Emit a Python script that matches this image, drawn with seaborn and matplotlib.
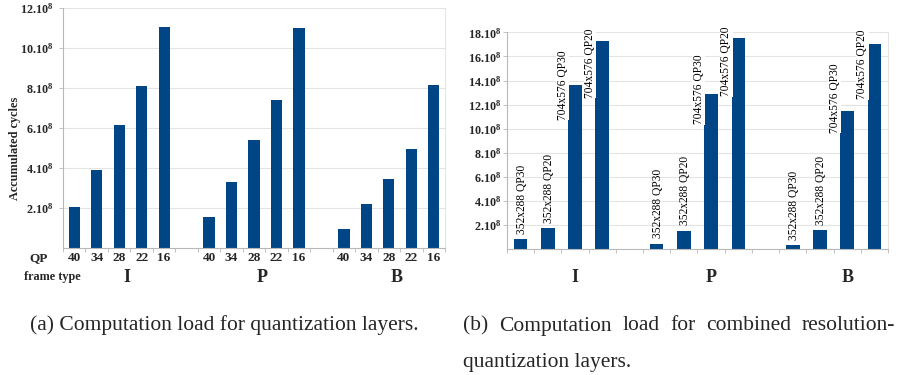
import numpy as np
import pandas as pd
import seaborn as sns
import matplotlib
matplotlib.use('Agg')
import matplotlib.pyplot as plt
import matplotlib.transforms as mtransforms

# ---------------- data (units of 10^8 cycles) ----------------
frame_types = ['I', 'P', 'B']
qp_values = ['40', '34', '28', '22', '16']
quant_I = [2.05, 3.90, 6.13, 8.10, 11.05]
quant_P = [1.55, 3.28, 5.40, 7.40, 11.00]
quant_B = [0.93, 2.18, 3.45, 4.93, 8.15]

layer_labels = ['352x288 QP30', '352x288 QP20', '704x576 QP30', '704x576 QP20']
combo_I = [0.83, 1.74, 13.65, 17.27]
combo_P = [0.47, 1.54, 12.88, 17.55]
combo_B = [0.33, 1.58, 11.49, 17.02]

yticks_a = [2, 4, 6, 8, 10, 12]
yticks_b = [2, 4, 6, 8, 10, 12, 14, 16, 18]

caption_a = '(a) Computation load for quantization layers.'
caption_b1 = '(b) Computation load for combined resolution-'
caption_b2 = 'quantization layers.'

# ---------------- style ----------------
sns.set_style('white')
plt.rcParams['font.family'] = ['Liberation Serif', 'DejaVu Serif']
plt.rcParams['mathtext.fontset'] = 'custom'
plt.rcParams['mathtext.bf'] = 'Liberation Serif:bold'
plt.rcParams['mathtext.rm'] = 'Liberation Serif:bold'
plt.rcParams['mathtext.default'] = 'bf'

BLUE = '#004586'
GRID = '#e4e4e4'
SPINE = '#b8b8b8'
W, H = 901, 375

fig = plt.figure(figsize=(W / 100, H / 100), dpi=100)
axA = fig.add_axes([63 / W, 1 - 248 / H, (445 - 63) / W, (248 - 7.5) / H])
axB = fig.add_axes([507 / W, 1 - 249.3 / H, (888 - 507) / W, (249.3 - 32.3) / H])

# ---------------- build tables ----------------
rowsA = []
for g, (ft, vals) in enumerate(zip(frame_types, [quant_I, quant_P, quant_B])):
    for i, (qp, v) in enumerate(zip(qp_values, vals)):
        rowsA.append(dict(pos=g * (len(qp_values) + 1) + i, frame=ft, label=qp, val=v))
dfA = pd.DataFrame(rowsA)

rowsB = []
for g, (ft, vals) in enumerate(zip(frame_types, [combo_I, combo_P, combo_B])):
    for i, (lab, v) in enumerate(zip(layer_labels, vals)):
        rowsB.append(dict(pos=g * (len(layer_labels) + 1) + i, frame=ft, label=lab, val=v))
dfB = pd.DataFrame(rowsB)

sns.barplot(data=dfA, x='pos', y='val', native_scale=True, color=BLUE,
            saturation=1, width=0.5, errorbar=None, ax=axA, linewidth=0)
sns.barplot(data=dfB, x='pos', y='val', native_scale=True, color=BLUE,
            saturation=1, width=0.5, errorbar=None, ax=axB, linewidth=0)


def style(ax, ymax, yticks, nslots, pad):
    ax.set_ylim(0, ymax)
    ax.set_xlim(-0.5, nslots - 0.5)
    ax.set_yticks(yticks)
    ax.set_yticklabels([f'{t}.10$^{{8}}$' for t in yticks], fontweight='bold', fontsize=8.7)
    ax.yaxis.grid(True, color=GRID, lw=0.8)
    ax.xaxis.grid(False)
    ax.set_axisbelow(True)
    ax.tick_params(axis='y', left=True, length=3, width=0.6, color=SPINE, pad=pad)
    ax.set_xticks(np.arange(-0.5, nslots, 1), minor=True)
    ax.tick_params(axis='x', which='minor', bottom=True, length=3, width=0.6, color=SPINE)
    ax.set_xlabel('')
    ax.set_ylabel('')
    for s in ['left', 'bottom']:
        ax.spines[s].set_color(SPINE)
        ax.spines[s].set_linewidth(0.8)
    ax.spines['right'].set_color(GRID)
    ax.spines['right'].set_linewidth(0.8)
    ax.spines['top'].set_visible(False)


nA = len(frame_types) * (len(qp_values) + 1) - 1
nB = len(frame_types) * (len(layer_labels) + 1) - 1
style(axA, 12, yticks_a, nA, 4)
style(axB, 18, yticks_b, nB, 1)

# x tick labels (QP) on chart a
axA.set_xticks(dfA['pos'])
axA.set_xticklabels(dfA['label'], fontweight='bold', fontsize=9.5)
axA.tick_params(axis='x', which='major', length=0, pad=3)
axB.set_xticks([])

# row labels
fig.text(39 / W, 1 - 258 / H, 'QP', ha='center', va='center', fontweight='bold', fontsize=9.5)
fig.text(52 / W, 1 - 277 / H, 'frame type', ha='center', va='center', fontweight='bold', fontsize=8.8)
fig.text(15 / W, 1 - 148 / H, 'Accumulated cycles', ha='center', va='center',
         rotation=90, fontweight='bold', fontsize=8.8)

# group labels
for ax, df, off in [(axA, dfA, 0.35), (axB, dfB, 0.5)]:
    tr = mtransforms.blended_transform_factory(ax.transData, fig.transFigure)
    for ft in frame_types:
        c = df.loc[df['frame'] == ft, 'pos'].mean() + off
        ax.text(c, 1 - 277 / H, ft, transform=tr, ha='center', va='center',
                fontweight='bold', fontsize=13)

# rotated bar labels on chart b
for _, r in dfB.iterrows():
    if r['val'] < 8:
        axB.text(r['pos'] + 0.05, r['val'] + 0.45, r['label'], rotation=90,
                 ha='center', va='bottom', fontsize=8.3, color='black', zorder=5)
    else:
        axB.text(r['pos'] - 0.45, 0.5 * r['val'] + 6.8, r['label'], rotation=90,
                 ha='center', va='center', fontsize=8.3, color='black', zorder=5,
                 bbox=dict(facecolor='white', edgecolor='none', pad=0.3))

# captions
CAP = 15.5
fig.text(30 / W, 1 - 325 / H, caption_a, ha='left', va='center', fontsize=CAP)

fig.canvas.draw()
renderer = fig.canvas.get_renderer()
words = caption_b1.split()
texts = [fig.text(0, 1 - 326 / H, w, ha='left', va='center', fontsize=CAP) for w in words]
widths = [t.get_window_extent(renderer).width for t in texts]
x0, x1 = 463, 895
gap = (x1 - x0 - sum(widths)) / (len(words) - 1)
x = x0
for t, w in zip(texts, widths):
    t.set_x(x / W)
    x += w + gap
fig.text(x0 / W, 1 - 363 / H, caption_b2, ha='left', va='center', fontsize=CAP)

fig.savefig('out.png', dpi=100)
